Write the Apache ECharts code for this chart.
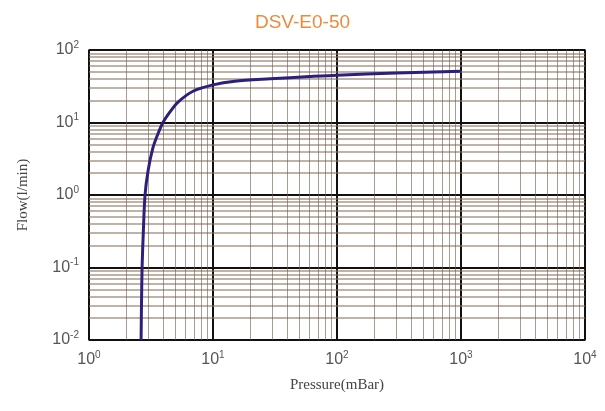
<!DOCTYPE html>
<html>
<head>
<meta charset="utf-8">
<script src="https://cdn.jsdelivr.net/npm/echarts@6/dist/echarts.min.js"></script>
<style>html,body{margin:0;padding:0;background:#fff}#c{width:605px;height:411px}</style>
</head>
<body>
<div id="c"></div>
<script>
const titleText = 'DSV-E0-50';
const xName = 'Pressure(mBar)';
const yName = 'Flow(l/min)';
const pressure = [2.63, 2.65, 2.68, 2.74, 2.83, 3.0, 3.28, 3.6, 3.95, 4.5, 5.2, 6.9, 10, 15, 29, 60, 100, 300, 1000];
const flow = [0.01, 0.03, 0.1, 0.3, 1, 2.2, 4.5, 7, 10, 14, 19, 27, 33, 37, 40, 43, 45, 48, 51];
const xDecades = [1, 10, 100, 1000];
const yDecades = [0.01, 0.1, 1, 10];
const minorSteps = [2, 3, 4, 5, 6, 7, 8, 9];

const xMinor = [];
xDecades.forEach(d => minorSteps.forEach(m => xMinor.push(+(d * m).toPrecision(3))));
const yMinor = [];
yDecades.forEach(d => minorSteps.forEach(m => yMinor.push(+(d * m).toPrecision(3))));

const chart = echarts.init(document.getElementById('c'), null, {renderer: 'canvas'});
function expLabel(v) {
  const e = Math.round(Math.log10(v));
  return '{b|10}{s|' + e + '}';
}
const labelRich = {
  b: {fontSize: 16, color: '#555', fontFamily: 'Liberation Sans, Arial, sans-serif'},
  s: {fontSize: 10, color: '#555', fontFamily: 'Liberation Sans, Arial, sans-serif', padding: [0, 0, 10, 0]}
};
chart.setOption({
  animation: false,
  title: {
    text: titleText, left: 'center', top: 8,
    textStyle: {color: '#EE8A3C', fontSize: 19, fontWeight: 'normal', fontFamily: 'Liberation Sans, Arial, sans-serif'}
  },
  grid: {left: 89, right: 20, top: 50, bottom: 71, show: true, borderColor: '#444', borderWidth: 1.5, backgroundColor: '#fff'},
  xAxis: {
    type: 'log', logBase: 10, min: 1, max: 10000,
    name: xName, nameLocation: 'middle', nameGap: 38,
    nameTextStyle: {fontFamily: 'Liberation Serif, Times New Roman, serif', fontSize: 15, color: '#444'},
    axisLine: {show: false}, axisTick: {show: false},
    axisLabel: {formatter: expLabel, rich: labelRich, margin: 10},
    splitLine: {show: true, lineStyle: {color: '#111', width: 2}}
  },
  yAxis: {
    type: 'log', logBase: 10, min: 0.01, max: 100,
    name: yName, nameLocation: 'middle', nameGap: 58,
    nameTextStyle: {fontFamily: 'Liberation Serif, Times New Roman, serif', fontSize: 15, color: '#444'},
    axisLine: {show: false}, axisTick: {show: false},
    axisLabel: {formatter: expLabel, rich: labelRich, margin: 10},
    splitLine: {show: true, lineStyle: {color: '#111', width: 2}}
  },
  series: [
    {
      type: 'line', data: [], silent: true, z: 1,
      markLine: {
        silent: true, symbol: 'none', label: {show: false}, animation: false,
        lineStyle: {color: 'rgba(140,115,95,0.55)', width: 2, type: 'solid'},
        data: yMinor.map(v => ({yAxis: v}))
      }
    },
    {
      type: 'line', data: [], silent: true, z: 1,
      markLine: {
        silent: true, symbol: 'none', label: {show: false}, animation: false,
        lineStyle: {color: 'rgba(110,90,75,0.6)', width: 1, type: 'solid'},
        data: xMinor.map(v => ({xAxis: v}))
      }
    },
    {
      type: 'line', z: 5,
      data: pressure.map((p, i) => [p, flow[i]]),
      smooth: 0.3, showSymbol: false,
      lineStyle: {color: '#2E1F7C', width: 3}
    }
  ]
});
</script>
</body>
</html>
